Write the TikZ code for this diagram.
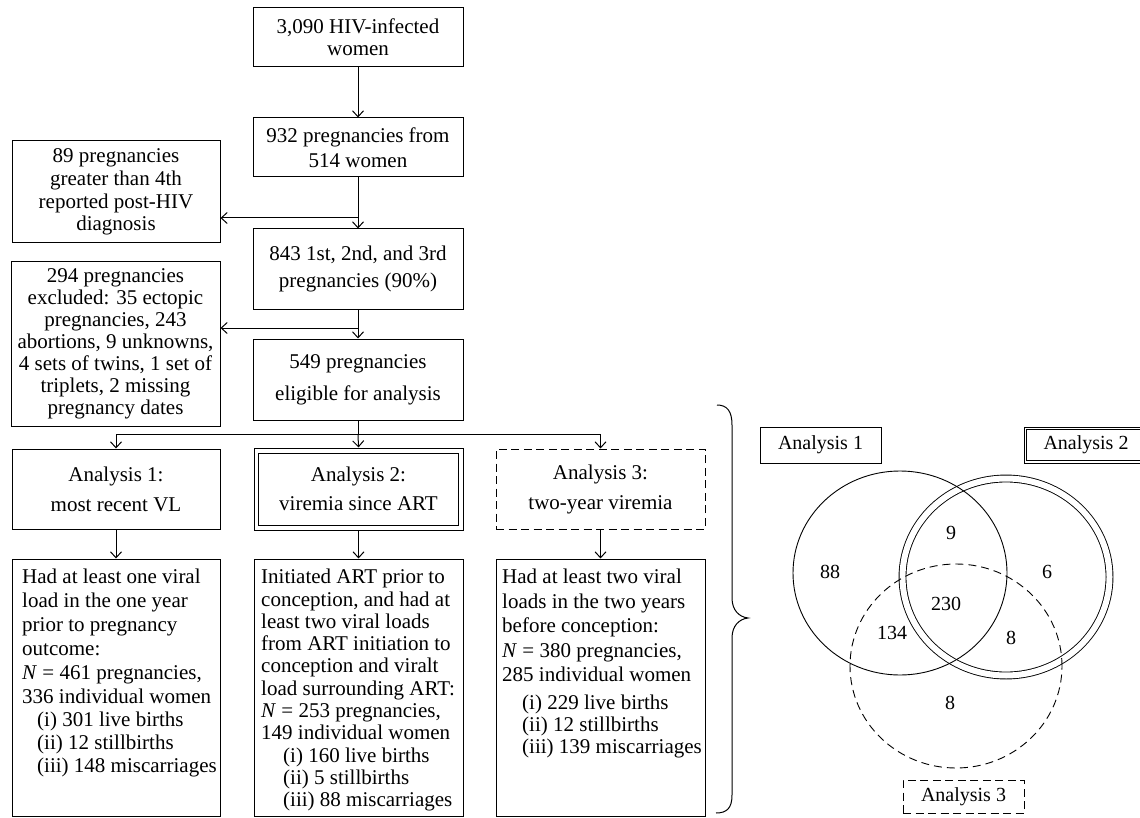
\documentclass[tikz,border=0pt]{standalone}
\usepackage{fontspec}
\setmainfont{Liberation Serif}
\usetikzlibrary{arrows.meta}
\begin{document}
\begin{tikzpicture}[x=1pt,y=-1pt,
  fbox/.style={draw,line width=1pt,inner sep=0pt,align=center,font={\fontsize{21}{22}\selectfont}},
  dashbox/.style={dash pattern=on 8pt off 4.5pt},
  arr/.style={line width=1pt,-{Straight Barb[length=6pt,width=11pt]}},
  ln/.style={line width=1pt},
  ttxt/.style={anchor=north west,inner sep=0pt,align=left},
  vtxt/.style={font={\fontsize{20}{20}\selectfont}},
  vbox/.style={draw,line width=0.9pt,inner sep=0pt,font={\fontsize{20}{20}\selectfont}}
]
\useasboundingbox (0,0) rectangle (1140,818);

% flowchart
\node[fbox,minimum width=210pt,minimum height=59pt] (n1) at (358,37.5) {3,090 HIV-infected\\women};
\node[fbox,minimum width=210pt,minimum height=59pt,font={\fontsize{21}{25}\selectfont}] (n2) at (358,147.5) {932 pregnancies from\\514 women};
\node[fbox,minimum width=208pt,minimum height=102pt,font={\fontsize{21}{22.7}\selectfont}] (ex1) at (116,192) {89 pregnancies\\greater than 4th\\reported post-HIV\\diagnosis};
\node[fbox,minimum width=210pt,minimum height=80pt,font={\fontsize{21}{27}\selectfont}] (n3) at (358,269) {843 1st, 2nd, and 3rd\\pregnancies (90\%)};
\node[fbox,minimum width=209pt,minimum height=164pt] (ex2) at (115.5,344) {294 pregnancies\\excluded: 35 ectopic\\pregnancies, 243\\abortions, 9 unknowns,\\4 sets of twins, 1 set of\\triplets, 2 missing\\pregnancy dates};
\node[fbox,minimum width=210pt,minimum height=81pt,font={\fontsize{21}{32}\selectfont}] (n4) at (358,379.5) {549 pregnancies\\eligible for analysis};

\node[fbox,minimum width=208pt,minimum height=80pt,font={\fontsize{21}{30}\selectfont}] (a1) at (116,489) {Analysis 1:\\most recent VL};
\node[fbox,minimum width=209pt,minimum height=82pt,font={\fontsize{21}{29}\selectfont}] (a2) at (358.5,489) {Analysis 2:\\viremia since ART};
\draw[ln] ([shift={(5pt,-5.5pt)}]a2.north west) rectangle ([shift={(-5pt,5pt)}]a2.south east);
\node[fbox,dashbox,minimum width=209pt,minimum height=80pt,font={\fontsize{21}{30}\selectfont}] (a3) at (600.5,489) {Analysis 3:\\two-year viremia};

\node[fbox,minimum width=208pt,minimum height=257pt] (t1) at (116,687.5) {};
\node[fbox,minimum width=209pt,minimum height=257pt] (t2) at (358.5,687.5) {};
\node[fbox,minimum width=209pt,minimum height=257pt] (t3) at (600.5,687.5) {};

\node[ttxt,font={\fontsize{21}{24}\selectfont}] (t1txt) at (22,569) {Had at least one viral\\load in the one year\\prior to pregnancy\\outcome:\\\textit{N} = 461 pregnancies,\\336 individual women\\[-1pt]\hspace*{15pt}(i) 301 live births\\[-1pt]\hspace*{15pt}(ii) 12 stillbirths\\[-1pt]\hspace*{15pt}(iii) 148 miscarriages};
\node[ttxt,font={\fontsize{21}{22.3}\selectfont}] (t2txt) at (261,569) {Initiated ART prior to\\conception, and had at\\least two viral loads\\from ART initiation to\\conception and viralt\\load surrounding ART:\\\textit{N} = 253 pregnancies,\\149 individual women\\\hspace*{22pt}(i) 160 live births\\\hspace*{22pt}(ii) 5 stillbirths\\\hspace*{22pt}(iii) 88 miscarriages};
\node[ttxt,font={\fontsize{21}{24.5}\selectfont}] (t3txt) at (502,569) {Had at least two viral\\loads in the two years\\before conception:\\\textit{N} = 380 pregnancies,\\285 individual women\\[3.5pt]\hspace*{20pt}(i) 229 live births\\[-2.5pt]\hspace*{20pt}(ii) 12 stillbirths\\[-2.5pt]\hspace*{20pt}(iii) 139 miscarriages};

% connectors
\draw[arr] (n1.south) -- (n2.north);
\coordinate (b1) at (358,218);
\draw[arr] (n2.south) -- (n3.north);
\draw[arr] (b1) -- (b1 -| ex1.east);
\coordinate (b2) at (358,328);
\draw[arr] (n3.south) -- (n4.north);
\draw[arr] (b2) -- (b2 -| ex2.east);
\coordinate (b3) at (358,434);
\draw[ln] (n4.south) -- (b3);
\draw[ln] (b3 -| a1.north) -- (b3 -| a3.north);
\draw[arr] (b3 -| a1.north) -- (a1.north);
\draw[arr] (b3) -- (a2.north);
\draw[arr] (b3 -| a3.north) -- (a3.north);
\draw[arr] (a1.south) -- (t1.north);
\draw[arr] (a2.south) -- (t2.north);
\draw[arr] (a3.south) -- (t3.north);

% brace
\draw[ln] (717,405) .. controls (727,405) and (732,411) .. (732,425) -- (732,598) .. controls (732,610) and (739,617) .. (748,618) .. controls (739,619) and (732,626) .. (732,638) -- (732,795) .. controls (732,808) and (727,813) .. (716,813);

% Venn
\draw[double,double distance=6pt,line width=0.9pt] (1006,577) ellipse [x radius=103.5pt,y radius=98.5pt];
\draw[line width=0.9pt] (900,573) ellipse [x radius=107pt,y radius=102pt];
\draw[line width=0.9pt,dash pattern=on 8pt off 5pt] (956,666) ellipse [x radius=106pt,y radius=102pt];

\node[vbox,minimum width=121pt,minimum height=36pt] (L1) at (820.5,445) {Analysis 1};
\node[vbox,minimum width=124pt,minimum height=36pt] (L2) at (1086,445) {Analysis 2};
\draw[line width=0.9pt] ([shift={(3.3pt,-3.3pt)}]L2.north west) rectangle ([shift={(-3.3pt,3.3pt)}]L2.south east);
\node[vbox,dashbox,minimum width=121pt,minimum height=33pt] (L3) at (963.5,796.5) {Analysis 3};

\node[vtxt] (v88) at (830,572) {88};
\node[vtxt] (v9) at (951,533) {9};
\node[vtxt] (v6) at (1047,572) {6};
\node[vtxt] (v230) at (946,604) {230};
\node[vtxt] (v134) at (892,633) {134};
\node[vtxt] (v8a) at (1011,638) {8};
\node[vtxt] (v8b) at (950,703) {8};
\end{tikzpicture}
\end{document}
